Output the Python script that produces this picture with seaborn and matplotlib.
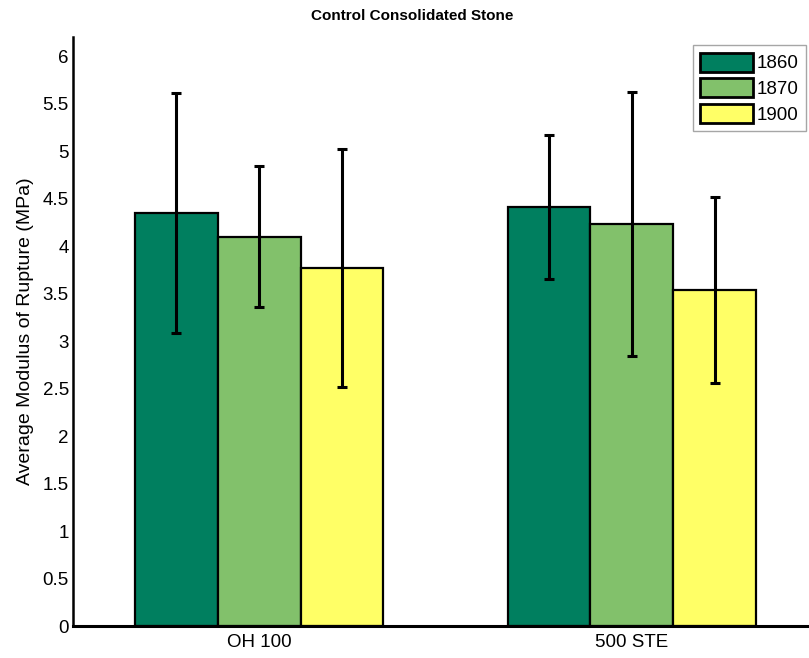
import seaborn as sns
import pandas as pd
import matplotlib.pyplot as plt
from matplotlib.patches import Patch

treatments = ['OH 100', '500 STE']
years = ['1860', '1870', '1900']
colors = ['#007f5f', '#82c16b', '#ffff66']

# mean modulus of rupture (MPa) per treatment, one list per year
mor_1860 = [4.35, 4.41]
mor_1870 = [4.10, 4.23]
mor_1900 = [3.77, 3.54]
# half-length of the error bars
err_1860 = [1.26, 0.76]
err_1870 = [0.74, 1.39]
err_1900 = [1.25, 0.98]

means = {'1860': mor_1860, '1870': mor_1870, '1900': mor_1900}
errs = {'1860': err_1860, '1870': err_1870, '1900': err_1900}

df = pd.DataFrame([
    {'treatment': t, 'year': y, 'mor': means[y][i], 'err': errs[y][i]}
    for y in years for i, t in enumerate(treatments)
])

sns.set_style('white')
plt.rcParams['font.family'] = ['Liberation Sans', 'DejaVu Sans']
plt.rcParams['text.color'] = 'black'
plt.rcParams['axes.labelcolor'] = 'black'

fig = plt.figure(figsize=(8.09, 6.58), dpi=100)
ax = fig.add_axes([0.0902, 0.0486, 0.921, 0.895])

sns.barplot(data=df, x='treatment', y='mor', hue='year', hue_order=years,
            order=treatments, palette=colors, width=0.667, errorbar=None,
            edgecolor='black', linewidth=1.6, saturation=1, legend=False, ax=ax)

# error bars at the centre of each bar
for year, cont in zip(years, ax.containers):
    sub = df[df['year'] == year].set_index('treatment').loc[treatments]
    xs = [p.get_x() + p.get_width() / 2 for p in cont.patches]
    ax.errorbar(xs, sub['mor'], yerr=sub['err'], fmt='none', ecolor='black',
                elinewidth=2.2, capsize=3.5, capthick=2.2, zorder=5)

ax.set_xlim(-0.5, 1.5)
ax.set_ylim(0, 6.2)
ax.set_yticks([i * 0.5 for i in range(13)])
ax.set_yticklabels([f'{i * 0.5:g}' for i in range(13)])
ax.tick_params(axis='both', length=0, labelsize=13.5, colors='black')
ax.tick_params(axis='y', pad=3)
ax.tick_params(axis='x', pad=6)
ax.set_xlabel('')
ax.set_ylabel('Average Modulus of Rupture (MPa)', fontsize=14)
ax.yaxis.set_label_coords(-0.052, 0.5)

for s in ['top', 'right']:
    ax.spines[s].set_visible(False)
ax.spines['left'].set_linewidth(1.8)
ax.spines['left'].set_color('black')
ax.spines['bottom'].set_linewidth(2.2)
ax.spines['bottom'].set_color('black')

fig.text(0.509, 0.976, 'Control Consolidated Stone', ha='center', va='center',
         fontsize=11, fontweight='bold')

handles = [Patch(facecolor=c, edgecolor='black', linewidth=2, label=y)
           for c, y in zip(colors, years)]
leg = ax.legend(handles=handles, loc='upper right', bbox_to_anchor=(806 / 809, 1 - 45 / 658),
                bbox_transform=fig.transFigure, borderaxespad=0, fontsize=13.5,
                handlelength=2.8, handleheight=1.2, labelspacing=0.3,
                handletextpad=0.2, borderpad=0.4, fancybox=False, frameon=True)
leg.get_frame().set_edgecolor('#909090')
leg.get_frame().set_linewidth(1)

fig.savefig('out.png', dpi=100)
